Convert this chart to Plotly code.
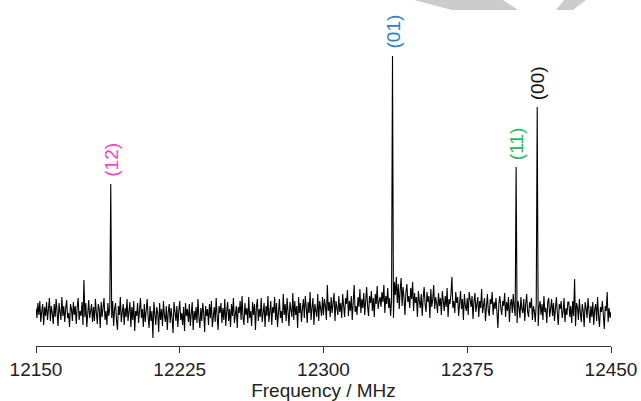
import plotly.graph_objects as go

# ---- data ----
freq_start = 12150          # MHz, first sample
freq_step = 0.5             # MHz between samples
intensity = [
    # 12150
    4, -6, 9, -3, 11, -10, 1, 8, -13, 5, -4, 10, -8, 3, 14, -9, 6, -1, -12, 8,
    # 12160
    -5, 13, -2, -14, 9, 0, -8, 15, -4, 6, -10, 4, 12, -6, -1, -15, 8, 3, -9, 10,
    # 12170
    -3, 6, -12, 5, 14, -8, 1, -4, 10, -13, 32, -5, 9, -15, 4, 12, -6, 0, 8, -10,
    # 12180
    5, -9, 13, -1, -12, 8, 3, -16, 10, -5, 6, 14, -8, 1, -13, 9, -4, 4, 128, -6,
    # 12190
    11, -14, 3, 9, -8, -18, 6, -3, 15, -10, 0, 8, -13, 4, -5, 13, -9, -1, 10, -15,
    # 12200
    5, -8, 11, -19, 1, -4, 9, -11, -1, 14, -6, 3, -15, 8, -10, 4, 13, -5, -16, 6,
    # 12210
    -9, 1, -26, 10, -5, -13, 5, -1, -20, 9, -8, 3, -14, 11, -4, -10, 6, -18, 0, 8,
    # 12220
    -11, 4, -6, -21, 10, -3, -9, 6, -15, 1, 11, -8, -1, -13, 5, -19, 9, -4, 3, -10,
    # 12230
    8, -14, -3, 10, -18, 1, -8, 5, -11, 13, -5, -16, 4, -9, 9, -1, -20, 6, -4, 3,
    # 12240
    -13, 8, -6, 11, -15, 0, 5, -10, 14, -4, -18, 6, -1, 9, -11, 4, -8, 13, -14, 1,
    # 12250
    10, -9, 3, -15, 8, -4, 14, -11, 0, 6, -16, 5, -1, 11, -8, 16, -5, -13, 9, -3,
    # 12260
    4, -11, 15, -6, 1, -14, 10, -3, 8, -18, 5, 13, -9, 3, -5, 14, -10, 0, 9, -15,
    # 12270
    6, -4, 16, -10, 3, 11, -13, 5, -1, 15, -8, 9, -15, 4, 13, -6, 1, -11, 18, -3,
    # 12280
    8, -9, 14, 0, -14, 10, 4, -5, 19, -8, 11, -3, 6, -16, 15, -1, 9, -10, 3, 13,
    # 12290
    -6, 16, 5, -11, 10, -1, 20, -8, 4, 14, -13, 8, 1, -5, 18, -9, 11, 3, -4, 15,
    # 12300
    -3, 13, 6, -8, 27, 1, 10, -5, 15, -1, 8, 19, -9, 11, 4, -3, 16, 0, 9, -6,
    # 12310
    18, 3, -5, 14, 8, 22, -4, 11, 1, 16, -8, 10, 27, 0, 6, -3, 15, 5, 23, -1,
    # 12320
    13, 4, 19, -3, 10, 25, 6, -4, 16, 9, 21, 1, 14, -5, 18, 8, 26, 3, 11, 15,
    # 12330
    5, 20, 10, 27, -1, 16, 8, 24, 4, 14, -4, 11, 256, -6, 30, 17, 35, 9, 28, 3,
    # 12340
    22, 34, 6, 25, 14, -3, 20, 28, 10, 16, 4, 24, 13, 30, 1, 19, 9, 15, -5, 21,
    # 12350
    11, 4, 18, -4, 14, 25, 8, 0, 20, 10, 16, -6, 23, 5, 13, 27, 3, 15, 9, -1,
    # 12360
    19, 6, 14, -3, 21, 10, 1, 16, 5, 24, -5, 13, 8, 18, 35, 4, 11, -1, 20, 9,
    # 12370
    15, -4, 10, 21, 3, 13, -8, 18, 6, 1, 14, -3, 20, 9, 5, 16, -7, 11, 19, 0,
    # 12380
    8, 15, -5, 11, 4, 23, -1, 9, 14, -9, 6, 18, 1, -4, 13, 8, 20, -3, 10, 3,
    # 12390
    14, -8, -16, 9, 16, 4, -3, 11, 6, 19, -5, 10, 1, 15, -10, 8, 13, -1, 18, 4,
    # 12400
    -4, 145, -11, 11, 5, -6, 15, 3, -1, 13, -9, 8, 18, 0, -5, 10, 4, 14, -8, 6,
    # 12410
    1, -10, 9, 205, -14, 5, 11, -3, 8, -8, 16, 0, 4, -11, 10, 14, -5, 3, 13, -4,
    # 12420
    9, -9, 5, 15, -1, -13, 8, 3, 11, -6, 0, 14, -10, 4, -3, 10, 10, -5, 6, -11,
    # 12430
    11, -4, 33, -14, 9, 5, -8, 13, -1, -10, 8, 1, -15, 10, 4, -6, 14, -3, -11, 6,
    # 12440
    -5, 10, -13, 3, 8, -9, 15, -4, -15, 5, 0, 11, -8, -17, 6, 1, 20, -10, 4, -6,
    # 12450
    0,
]
freqs = [freq_start + i * freq_step for i in range(len(intensity))]

peak_freqs = [12189, 12336, 12400.5, 12411.5]
peak_labels = ["(12)", "(01)", "(11)", "(00)"]
peak_colors = ["#ff3fc6", "#2a7fcb", "#25bb5c", "#111111"]

tick_vals = [12150, 12225, 12300, 12375, 12450]
tick_text = ["12150", "12225", "12300", "12375", "12450"]
x_title = "Frequency / MHz"

# ---- figure ----
W, H = 641, 401
ML, MR, MT, MB = 36, 30, 0, 55
FONT = "Liberation Sans, Arial, sans-serif"

fig = go.Figure()
fig.add_trace(go.Scatter(x=freqs, y=intensity, mode="lines",
                         line=dict(color="#000000", width=1.1),
                         hoverinfo="skip", showlegend=False))

for f, lab, col in zip(peak_freqs, peak_labels, peak_colors):
    h = intensity[int(round((f - freq_start) / freq_step))]
    fig.add_annotation(x=f, y=h, text=lab, textangle=-90, showarrow=False,
                       xanchor="center", yanchor="bottom", yshift=5,
                       font=dict(family=FONT, size=19, color=col))

# light grey watermark fragment at the top edge (pixel polygons -> paper coords)
pw, ph = W - ML - MR, H - MT - MB
def path(pts):
    s = ""
    for k, (px, py) in enumerate(pts):
        s += ("M" if k == 0 else "L") + f"{(px - ML) / pw:.4f},{1 - (py - MT) / ph:.4f} "
    return s + "Z"
for poly in ([(414, 0), (503, 0), (518, 10), (452, 10)],
             [(564, 0), (586, 0), (573, 10), (556, 10)]):
    fig.add_shape(type="path", path=path(poly), xref="paper", yref="paper",
                  fillcolor="#cccccc", line=dict(width=0), layer="above")

fig.update_layout(
    width=W, height=H, margin=dict(l=ML, r=MR, t=MT, b=MB),
    plot_bgcolor="white", paper_bgcolor="white",
    font=dict(family=FONT, color="#222222"),
    xaxis=dict(range=[12150, 12450], tickvals=tick_vals, ticktext=tick_text,
               showgrid=False, zeroline=False, showline=True, linecolor="#333333",
               linewidth=1, ticks="outside", ticklen=6, tickcolor="#333333",
               tickfont=dict(size=19, color="#222222"),
               title=dict(text=x_title, font=dict(size=19, color="#222222"), standoff=2)),
    yaxis=dict(range=[-34, 312], visible=False),
)

fig.write_html("out.html", config={"displayModeBar": False},
               post_script="document.body.style.margin='0';document.body.style.overflow='hidden';")
